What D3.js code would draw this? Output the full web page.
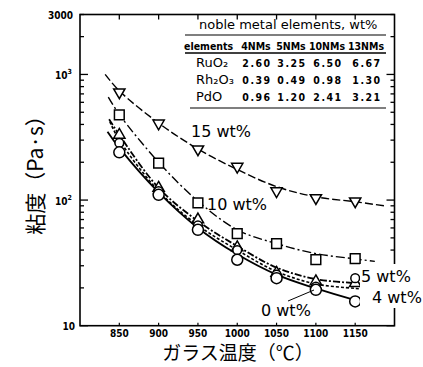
<!DOCTYPE html>
<html>
<head>
<meta charset="utf-8">
<script src="https://cdn.jsdelivr.net/npm/d3@7"></script>
<style>
  body { margin: 0; background: #fff; }
  svg { display: block; }
  .tick-label { font-family: "DejaVu Sans Condensed", "DejaVu Sans", sans-serif; font-weight: bold; font-size: 10px; }
  .wt-label { font-family: "DejaVu Sans", sans-serif; font-size: 16px; }
  .jp { font-family: "Noto Sans CJK JP", sans-serif; }
  .tbl { font-family: "DejaVu Sans", sans-serif; font-size: 13px; }
  .tbl-num { font-family: "DejaVu Sans Condensed", sans-serif; font-weight: bold; font-size: 10.5px; }
</style>
</head>
<body>
<svg id="chart" width="423" height="367"></svg>
<script>
// measured points
const temps = [850, 900, 950, 1000, 1050, 1100, 1150];
const wt15 = [723, 408, 254, 185, 118, 104, 98];
const wt10 = [476, 197, 95, 54, 45, 33.5, 34.2];
const wt5 = [330, 125, 70, 42, 26.3, 22.5, 21.8];
const wt4 = [285, 118, 63, 40, 25.5, 20.5, 23.9];
const wt0 = [240, 110, 58, 33.5, 23.9, 19.3, 15.6];

// fitted curves
const fitT15 = [832, 850, 900, 950, 1000, 1050, 1100, 1150, 1187];
const fit15 = [1000, 740, 410, 255, 175, 128, 106, 97, 90];
const fitT10 = [836, 850, 900, 950, 1000, 1050, 1100, 1150, 1175];
const fit10 = [660, 480, 200, 98, 58, 45, 37.5, 34, 32.5];
const fitT5 = [837, 850, 900, 950, 1000, 1050, 1100, 1150, 1170];
const fit5 = [440, 330, 125, 68, 43, 29, 23.5, 21.8, 21.3];
const fitT4 = [838, 850, 900, 950, 1000, 1050, 1100, 1150, 1169];
const fit4 = [420, 300, 118, 63, 40, 27, 21.5, 19.8, 19.3];
const fitT0 = [835, 850, 900, 950, 1000, 1050, 1100, 1150, 1168];
const fit0 = [350, 260, 115, 60, 37, 25.5, 19.8, 16, 15];

const xTicks = [850, 900, 950, 1000, 1050, 1100, 1150];

// table
const tblCols = ['4NMs', '5NMs', '10NMs', '13NMs'];
const tblRows = ['RuO₂', 'Rh₂O₃', 'PdO'];
const tblVals = [
  ['2.60', '3.25', '6.50', '6.67'],
  ['0.39', '0.49', '0.98', '1.30'],
  ['0.96', '1.20', '2.41', '3.21']
];

const svg = d3.select('#chart');
const plot = { left: 80, right: 394.5, top: 14.5, bottom: 325.7 };

const x = d3.scaleLinear().domain([800, 1200]).range([plot.left, plot.right]);
const y = d3.scaleLog().domain([10, 3000]).range([plot.bottom, plot.top]);

// --- Frame ---
svg.append('rect')
  .attr('x', plot.left).attr('y', plot.top)
  .attr('width', plot.right - plot.left).attr('height', plot.bottom - plot.top)
  .attr('fill', 'none').attr('stroke', '#000').attr('stroke-width', 1.6);

// log ticks on left and right (inward)
const yTicks = y.ticks();
const isMajor = v => Math.abs(Math.log10(v) - Math.round(Math.log10(v))) < 1e-9;
yTicks.forEach(v => {
  const len = isMajor(v) ? 8 : 4;
  svg.append('line')
    .attr('x1', plot.left).attr('x2', plot.left + len)
    .attr('y1', y(v)).attr('y2', y(v))
    .attr('stroke', '#000').attr('stroke-width', 1.3);
  svg.append('line')
    .attr('x1', plot.right).attr('x2', plot.right - len)
    .attr('y1', y(v)).attr('y2', y(v))
    .attr('stroke', '#000').attr('stroke-width', 1.3);
});

// x ticks top and bottom
xTicks.forEach(t => {
  svg.append('line')
    .attr('x1', x(t)).attr('x2', x(t))
    .attr('y1', plot.top).attr('y2', plot.top + 5)
    .attr('stroke', '#000').attr('stroke-width', 1.3);
  svg.append('line')
    .attr('x1', x(t)).attr('x2', x(t))
    .attr('y1', plot.bottom).attr('y2', plot.bottom - 3)
    .attr('stroke', '#000').attr('stroke-width', 1.2);
  svg.append('text')
    .attr('class', 'tick-label')
    .attr('x', x(t)).attr('y', plot.bottom + 11)
    .attr('text-anchor', 'middle')
    .text(t);
});

// y tick labels
const yLab = svg.append('g').attr('class', 'tick-label');
yLab.append('text').attr('x', 73).attr('y', y(3000) + 4).attr('text-anchor', 'end').text('3000');
[[1000, '3'], [100, '2']].forEach(([v, p]) => {
  const t = yLab.append('text').attr('x', 72).attr('y', y(v) + 5).attr('text-anchor', 'end');
  t.append('tspan').text('10');
  t.append('tspan').attr('dy', -5).attr('font-size', 7).text(p);
});
yLab.append('text').attr('x', 75).attr('y', y(10) + 4).attr('text-anchor', 'end').text('10');

// --- Axis titles ---
svg.append('text')
  .attr('class', 'jp')
  .attr('transform', 'translate(43,170) rotate(-90)')
  .attr('text-anchor', 'middle')
  .attr('font-size', 21)
  .text('粘度（Pa·s）');

svg.append('text')
  .attr('class', 'jp')
  .attr('x', 238).attr('y', 360)
  .attr('text-anchor', 'middle')
  .attr('font-size', 19)
  .text('ガラス温度（℃）');

// --- Table ---
const tbl = svg.append('g');
tbl.append('text').attr('class', 'tbl').attr('x', 199).attr('y', 29).attr('font-size', 14)
  .text('noble metal elements, wt%');
tbl.append('line').attr('x1', 185).attr('x2', 386).attr('y1', 35).attr('y2', 35)
  .attr('stroke', '#000').attr('stroke-width', 1.2);
const colX = [256, 291, 327, 366];
tbl.append('text').attr('class', 'tbl-num').attr('x', 184).attr('y', 50).attr('font-weight', 'normal')
  .text('elements');
tblCols.forEach((c, i) => {
  tbl.append('text').attr('class', 'tbl-num').attr('x', colX[i]).attr('y', 50)
    .attr('text-anchor', 'middle').text(c);
});
tbl.append('line').attr('x1', 185).attr('x2', 386).attr('y1', 53).attr('y2', 53)
  .attr('stroke', '#000').attr('stroke-width', 1.6);
const rowY = [67, 84, 101];
tblRows.forEach((r, i) => {
  tbl.append('text').attr('class', 'tbl').attr('x', 196).attr('y', rowY[i]).text(r);
  tblVals[i].forEach((v, j) => {
    tbl.append('text').attr('class', 'tbl-num').attr('x', colX[j] + 1).attr('y', rowY[i])
      .attr('text-anchor', 'middle').attr('letter-spacing', 1.5).text(v);
  });
});
tbl.append('line').attr('x1', 190).attr('x2', 386).attr('y1', 108).attr('y2', 108)
  .attr('stroke', '#000').attr('stroke-width', 1.2);

// --- Curves ---
const line = d3.line().x(d => x(d[0])).y(d => y(d[1])).curve(d3.curveCatmullRom.alpha(0.5));
const curves = [
  { t: fitT15, v: fit15, dash: '8,3', w: 1.4 },
  { t: fitT10, v: fit10, dash: '9,3,2,3', w: 1.4 },
  { t: fitT5, v: fit5, dash: '7,2,2,2', w: 1.8 },
  { t: fitT4, v: fit4, dash: '3,2', w: 1.6 },
  { t: fitT0, v: fit0, dash: null, w: 1.8 }
];
curves.forEach(c => {
  svg.append('path')
    .datum(c.t.map((t, i) => [t, c.v[i]]))
    .attr('d', line)
    .attr('fill', 'none')
    .attr('stroke', '#000')
    .attr('stroke-width', c.w)
    .attr('stroke-dasharray', c.dash);
});

// --- Markers ---
const sym = {
  tri: d3.symbol().type(d3.symbolTriangle).size(55),
  sq: d3.symbol().type(d3.symbolSquare).size(95),
  circ: d3.symbol().type(d3.symbolCircle).size(95),
  smallCirc: d3.symbol().type(d3.symbolCircle).size(60)
};
const series = [
  { v: wt15, s: sym.tri, flip: true },
  { v: wt10, s: sym.sq },
  { v: wt5, s: sym.tri },
  { v: wt4, s: sym.smallCirc },
  { v: wt0, s: sym.circ }
];
series.forEach(sr => {
  svg.append('g').selectAll('path')
    .data(temps.map((t, i) => [t, sr.v[i]]))
    .join('path')
    .attr('d', sr.s)
    .attr('transform', d => `translate(${x(d[0])},${y(d[1])})${sr.flip ? ' rotate(180)' : ''}`)
    .attr('fill', '#fff')
    .attr('stroke', '#000')
    .attr('stroke-width', 1.5);
});

// --- Labels ---
svg.append('text').attr('class', 'wt-label').attr('x', 191).attr('y', 137).text('15 wt%');
svg.append('text').attr('class', 'wt-label').attr('x', 207).attr('y', 210).text('10 wt%');
svg.append('rect').attr('x', 360).attr('y', 264).attr('width', 63).attr('height', 44).attr('fill', '#fff');
svg.append('text').attr('class', 'wt-label').attr('x', 361).attr('y', 282).text('5 wt%');
svg.append('text').attr('class', 'wt-label').attr('x', 372).attr('y', 303).text('4 wt%');
svg.append('text').attr('class', 'wt-label').attr('x', 261).attr('y', 316).text('0 wt%');
svg.append('line').attr('x1', 288).attr('y1', 301).attr('x2', 314).attr('y2', 290)
  .attr('stroke', '#000').attr('stroke-width', 1);
</script>
</body>
</html>
